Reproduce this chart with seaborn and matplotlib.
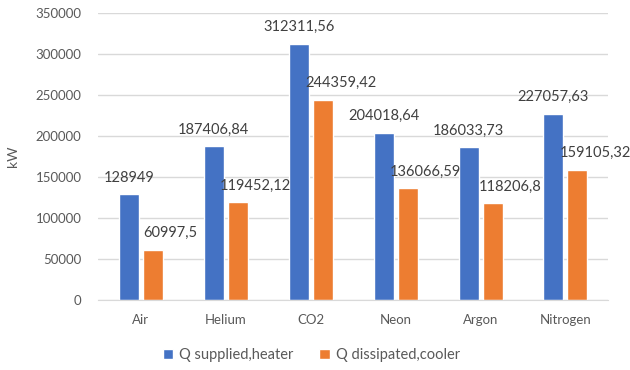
import pandas as pd
import matplotlib.pyplot as plt
import seaborn as sns

gases = ["Air", "Helium", "CO2", "Neon", "Argon", "Nitrogen"]
q_supplied = [128949, 187406.84, 312311.56, 204018.64, 186033.73, 227057.63]
q_dissipated = [60997.5, 119452.12, 244359.42, 136066.59, 118206.8, 159105.32]
series_names = ["Q supplied,heater", "Q dissipated,cooler"]

df = pd.DataFrame({
    "gas": gases * 2,
    "value": q_supplied + q_dissipated,
    "series": [series_names[0]] * len(gases) + [series_names[1]] * len(gases),
})

sns.set_style("white")
plt.rcParams['font.family'] = ['Lato', 'DejaVu Sans']

fig = plt.figure(figsize=(6.3, 3.7), dpi=100)
ax = fig.add_axes([0.156, 0.189, 0.809, 0.776])

sns.barplot(data=df, x="gas", y="value", hue="series", ax=ax,
            palette=["#4472C4", "#ED7D31"], width=0.565, gap=0.167,
            saturation=1, legend=True)

ax.set_ylim(0, 350000)
ax.set_xlim(-0.5, 5.5)
ax.set_yticks(range(0, 350001, 50000))
ax.yaxis.grid(True, color="#d9d9d9", linewidth=1)
ax.set_axisbelow(True)
for s in ["top", "right", "left"]:
    ax.spines[s].set_visible(False)
ax.spines["bottom"].set_color("#d9d9d9")
ax.tick_params(axis="both", length=0, colors="#595959", labelsize=9.5)
ax.tick_params(axis="y", pad=12)
ax.tick_params(axis="x", pad=10)
ax.set_xlabel("")
ax.set_ylabel("kW", color="#595959", fontsize=10, labelpad=12)


def fmt(v):
    return ("%.2f" % v).rstrip("0").rstrip(".").replace(".", ",")


for cont, dx in zip(ax.containers, [0, 13]):
    for bar in cont:
        h = bar.get_height()
        ax.annotate(fmt(h), (bar.get_x() + bar.get_width() / 2, h),
                    xytext=(dx, 12), textcoords="offset points",
                    ha="center", va="center", fontsize=10.5, color="#404040")

handles, labels = ax.get_legend_handles_labels()
ax.legend_.remove()
fig.legend(handles, labels, loc="center", bbox_to_anchor=(0.494, 0.04),
           ncol=2, frameon=False, fontsize=10.5, labelcolor="#595959",
           handlelength=0.7, handleheight=0.7, handletextpad=0.4,
           columnspacing=1.8)

fig.savefig("out.png", dpi=100)
